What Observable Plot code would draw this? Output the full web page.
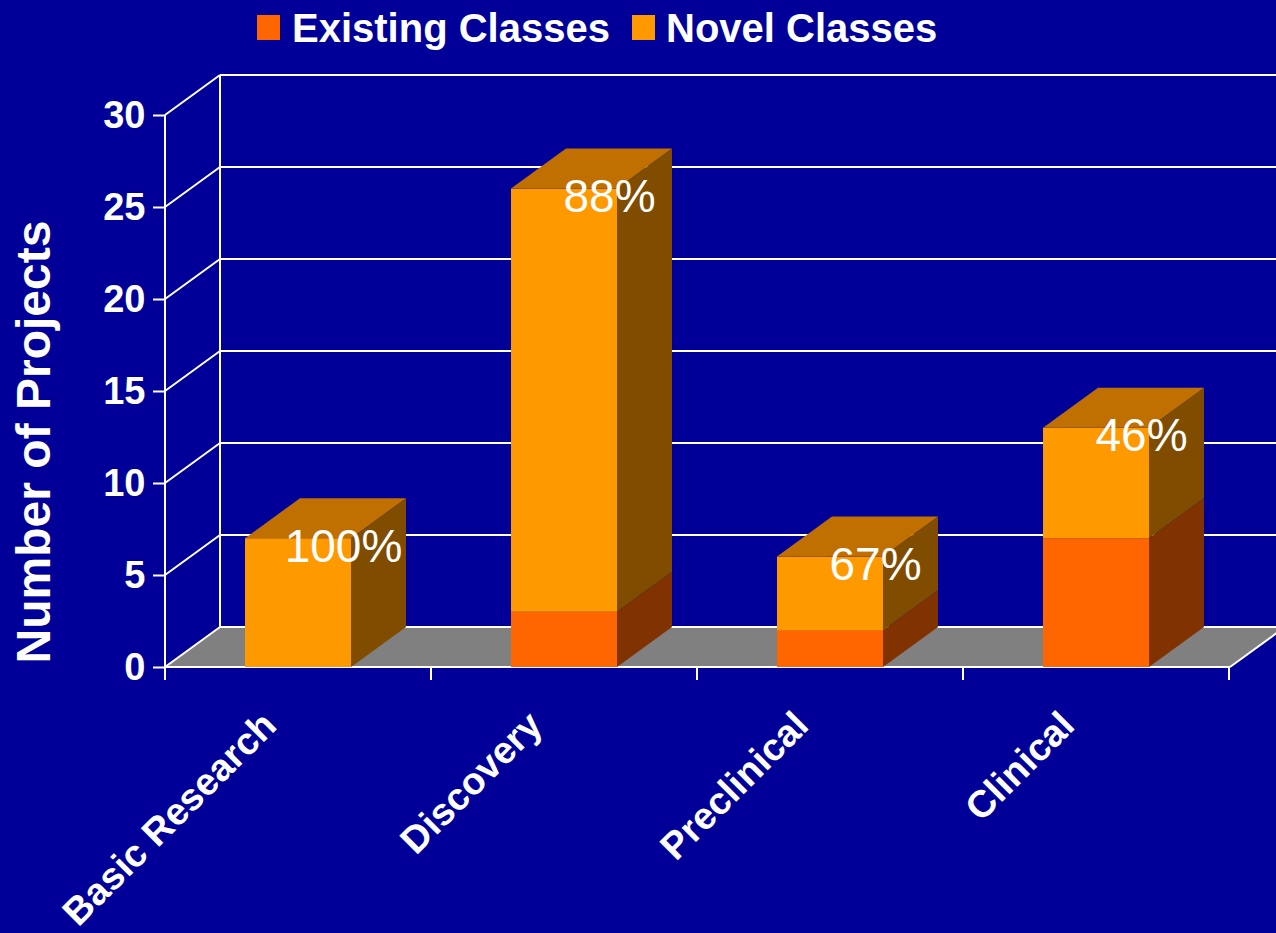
<!DOCTYPE html>
<html><head><meta charset="utf-8">
<script src="https://cdn.jsdelivr.net/npm/d3@7"></script>
<script src="https://cdn.jsdelivr.net/npm/@observablehq/plot@0.6"></script>
<style>
html,body{margin:0;padding:0;background:#000099;overflow:hidden;}
#legend{display:block}
#chart svg{display:block}
</style></head><body>
<svg id="legend" width="1276" height="56"></svg>
<div id="chart"></div>
<script>
const categories = ["Basic Research","Discovery","Preclinical","Clinical"];
const seriesNames = ["Existing Classes","Novel Classes"];
const existing = [0,3,2,7];
const novel = [7,23,4,6];
const pctLabels = ["100%","88%","67%","46%"];
const yTicks = [0,5,10,15,20,25,30];
const yTitle = "Number of Projects";

const FONT = '"Liberation Sans", Arial, Helvetica, sans-serif';
const frontColors = ["#FF6600","#FF9900"];
const sideColors = ["#803300","#804C00"];
const topColor = "#C07000";
const DX = 55, DY = -40;

const rows = [];
categories.forEach((c,i)=>{
  rows.push({cat:c, series:seriesNames[0], value:existing[i]});
  rows.push({cat:c, series:seriesNames[1], value:novel[i]});
});
const totals = categories.map((c,i)=>({cat:c, total: existing[i]+novel[i], label: pctLabels[i]}));

const chart = Plot.plot({
  width:1276, height:877, marginTop:59, marginBottom:266, marginLeft:165, marginRight:46,
  style:{background:"#000099", color:"white", fontFamily: FONT, overflow:"hidden"},
  x:{domain:categories, paddingInner:0.6, paddingOuter:0.3, axis:null},
  y:{domain:[0,30], axis:null},
  color:{domain:seriesNames, range:frontColors},
  marks:[
    Plot.axisY(yTicks, {anchor:"left", tickSize:12, tickPadding:8, fontSize:38, fontWeight:"bold", strokeWidth:2, label:null}),
    Plot.barY(rows, {x:"cat", y:"value", fill:"series"}),
    Plot.text(categories, {x:d=>d, frameAnchor:"bottom", dy:60, dx:-20, rotate:-45, textAnchor:"end", lineAnchor:"bottom", fontSize:38, fontWeight:"bold", fill:"white"}),
    Plot.text(totals, {x:"cat", y:"total", text:"label", dx:45, dy:23, lineAnchor:"bottom", fontSize:46, fill:"white"})
  ]
});
document.getElementById("chart").appendChild(chart);

const X = chart.scale("x"), Y = chart.scale("y");
const xs = c => X.apply(c), ys = v => Y.apply(v);
const bw = X.bandwidth, step = X.step;
const [xL, xR] = X.range;
const yMax = d3.max(yTicks);
const svg = d3.select(chart);
const NS = "http://www.w3.org/2000/svg";
const bg = d3.select(chart.insertBefore(document.createElementNS(NS,"g"), chart.querySelector("g")));
const line = (g,x1,y1,x2,y2)=>g.append("line").attr("x1",x1).attr("y1",y1).attr("x2",x2).attr("y2",y2)
  .attr("stroke","white").attr("stroke-width",2);

// floor
bg.append("polygon")
  .attr("points", [[xL,ys(0)],[xR,ys(0)],[xR+DX,ys(0)+DY],[xL+DX,ys(0)+DY]].join(" "))
  .attr("fill","#808080");
// back wall grid
yTicks.forEach(t=>line(bg, xL+DX, ys(t)+DY, xR+DX, ys(t)+DY));
line(bg, xL+DX, ys(0)+DY, xL+DX, ys(yMax)+DY);
// side wall diagonals
yTicks.forEach(t=>line(bg, xL, ys(t), xL+DX, ys(t)+DY));
// front axes
line(bg, xL, ys(yMax), xL, ys(0)+13);
line(bg, xL, ys(0), xR, ys(0));
line(bg, xR, ys(0), xR+DX, ys(0)+DY);
d3.range(categories.length+1).forEach(i=>line(bg, xL+i*step, ys(0), xL+i*step, ys(0)+13));

// 3D faces of bars
const fg = svg.append("g");
categories.forEach((c,i)=>{
  const x0 = xs(c), x1 = x0 + bw;
  const segs = [[0, existing[i], 0],[existing[i], existing[i]+novel[i], 1]];
  segs.forEach(([a,b,k])=>{
    if (b<=a) return;
    fg.append("polygon")
      .attr("points", [[x1,ys(b)],[x1+DX,ys(b)+DY],[x1+DX,ys(a)+DY],[x1,ys(a)]].join(" "))
      .attr("fill", sideColors[k]);
  });
  const top = existing[i]+novel[i];
  fg.append("polygon")
    .attr("points", [[x0,ys(top)],[x1,ys(top)],[x1+DX,ys(top)+DY],[x0+DX,ys(top)+DY]].join(" "))
    .attr("fill", topColor);
});
// bring percentage labels to front
const pctText = Array.from(chart.querySelectorAll("text")).find(t => t.textContent === pctLabels[0]);
if (pctText) {
  let g = pctText.parentNode;
  while (g.parentNode && g.parentNode !== chart) g = g.parentNode;
  chart.appendChild(g);
}

// y title
svg.append("text")
  .attr("transform", `translate(50,386) rotate(-90)`)
  .attr("text-anchor","middle")
  .attr("font-family", FONT).attr("font-size",48).attr("font-weight","bold").attr("fill","white")
  .text(yTitle);

// legend
const leg = d3.select("#legend");
const legItems = [
  {rx:257, tx:292},
  {rx:632, tx:666}
];
seriesNames.forEach((s,i)=>{
  const p = legItems[i];
  leg.append("rect").attr("x",p.rx).attr("y",15).attr("width",23).attr("height",25).attr("fill",frontColors[i]);
  leg.append("text").attr("x",p.tx).attr("y",42).attr("font-family",FONT).attr("font-size",40)
    .attr("font-weight","bold").attr("fill","white").text(s);
});
</script>
</body></html>
